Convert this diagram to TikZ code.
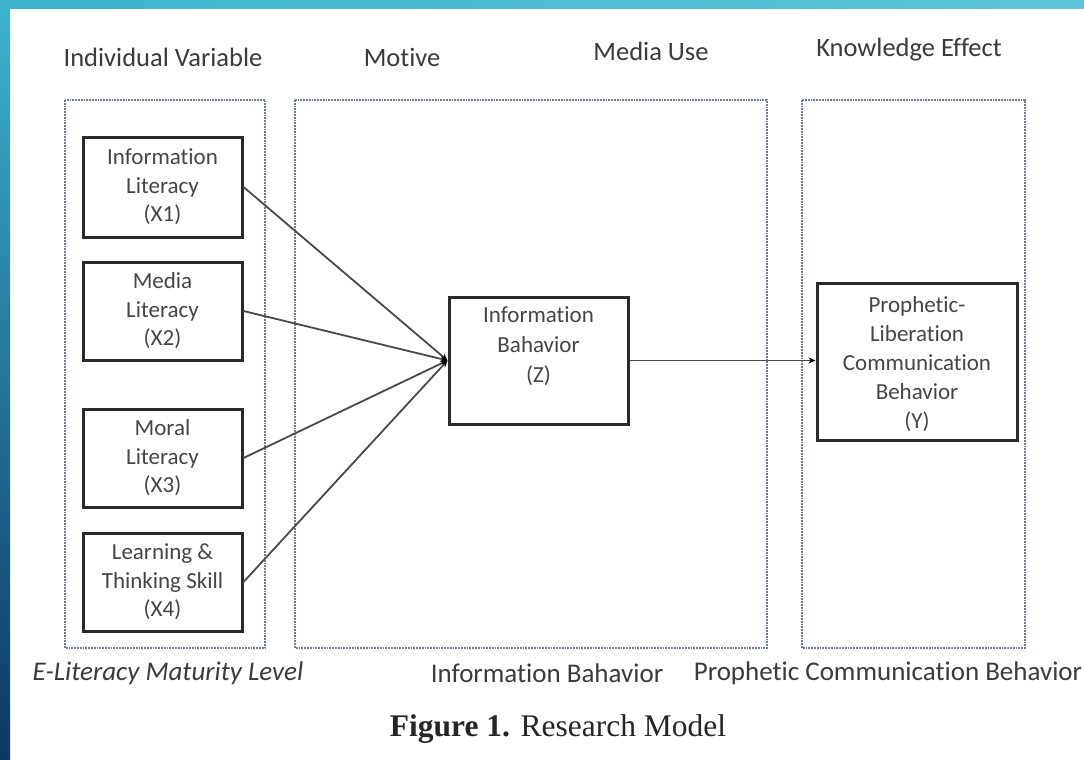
\documentclass[tikz,border=0pt]{standalone}
\usepackage{fontspec}
\setmainfont[Ligatures={NoCommon}]{Carlito}
\newfontfamily\capfont{Liberation Serif}
\usetikzlibrary{arrows.meta}

\definecolor{txtgray}{HTML}{454545}
\definecolor{boxline}{HTML}{2A2A2A}
\definecolor{dotline}{HTML}{6A7C98}
\definecolor{wireline}{HTML}{4A4A4A}
\definecolor{slidetop}{HTML}{3DB3CF}
\definecolor{slidetopR}{HTML}{5EC6DA}
\definecolor{slidebot}{HTML}{0C3762}

\tikzset{
  varbox/.style={draw=boxline, line width=3pt, fill=white, text=txtgray,
    align=center, inner sep=0pt, font=\fontsize{23}{28.5}\selectfont},
  group/.style={draw=dotline, line width=1.8pt, densely dotted},
  header/.style={text=txtgray!85!black, font=\fontsize{26.5}{30}\selectfont, inner sep=0pt},
  footer/.style={text=txtgray!85!black, font=\fontsize{27}{32}\selectfont, inner sep=0pt},
  wire/.style={draw=wireline, line width=1.8pt,
    -{Stealth[length=7pt,width=6pt,fill=black,color=black]}}
}

\begin{document}
\begin{tikzpicture}[x=1pt, y=-1pt]
\useasboundingbox (0,0) rectangle (1084,760);

% slide background: gradient edges around a white page
\fill[white] (0,0) rectangle (1084,760);
\shade[left color=slidetop, right color=slidetopR] (0,0) rectangle (1084,9);
\shade[top color=slidetop, bottom color=slidebot] (0,0) rectangle (10,760);

% column headers
\node[header] (hIV) at (163,57) {Individual Variable};
\node[header] (hMo) at (402,57) {Motive};
\node[header] (hMU) at (651,51) {Media Use};
\node[header] (hKE) at (909,50) {Knowledge Effect};

% dotted groups
\draw[group] (65,100) rectangle (265,648);
\draw[group] (295,100) rectangle (767,648);
\draw[group] (802,100) rectangle (1025,648);

% predictor boxes
\node[varbox, minimum width=159pt, minimum height=100pt] (x1) at (162.5,187) {Information\\Literacy\\(X1)};
\node[varbox, minimum width=159pt, minimum height=98pt] (x2) at (162.5,311) {Media\\Literacy\\(X2)};
\node[varbox, minimum width=159pt, minimum height=98pt] (x3) at (162.5,458) {Moral\\Literacy\\(X3)};
\node[varbox, minimum width=159pt, minimum height=98pt] (x4) at (162.5,582) {Learning \&\\Thinking Skill\\(X4)};

% mediator and outcome
\node[varbox, minimum width=179pt, minimum height=127pt, font=\fontsize{23}{30}\selectfont] (z) at (538.5,360.5) {Information\\Bahavior\\(Z)\\[2pt]};
\node[varbox, minimum width=200pt, minimum height=157pt, font=\fontsize{23}{29}\selectfont] (y) at (917,361.5) {\rule{0pt}{22pt}Prophetic-\\Liberation\\Communication\\Behavior\\(Y)};

% connectors
\foreach \n in {x1,x2,x3,x4}
  \draw[wire] (\n.east) -- (z.west);
\draw[wire] (z.east) -- (y.west |- z.east);

% footer labels
\node[footer, font=\fontsize{27}{32}\selectfont\itshape] (fEL) at (168,673) {E-Literacy Maturity Level};
\node[footer] (fIB) at (547,673) {Information Bahavior};
\node[footer] (fPC) at (888,673) {Prophetic Communication Behavior};

% caption
\node[text=black!85, font=\capfont\fontsize{31.5}{36}\selectfont, inner sep=0pt] (cap) at (558,729)
  {\textbf{Figure 1.} Research Model};
\end{tikzpicture}
\end{document}
